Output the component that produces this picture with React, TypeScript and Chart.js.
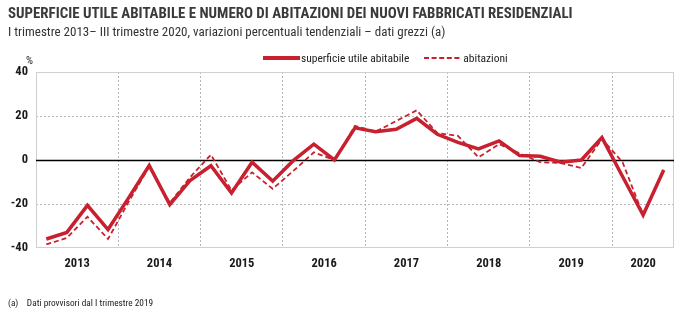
import React, { useEffect, useRef } from "react";
import { Chart, registerables } from "chart.js";

Chart.register(...registerables);

const years = ["2013", "2014", "2015", "2016", "2017", "2018", "2019", "2020"];
const quartersPerYear = [4, 4, 4, 4, 4, 4, 4, 3];

const superficie = [
  -35.9, -32.9, -20.6, -31.6, -17.2, -2.5, -20.3, -9.2, -2.6, -15, -1, -9.6,
  -0.3, 7.2, 0, 14.6, 12.9, 14, 18.9, 11.7, 8, 5, 8.7, 2, 1.7, -1, 0, 10.2,
  -7.5, -25, -4.5,
];
const abitazioni = [
  -38.4, -35.4, -25.8, -35.9, -19, -3, -19.5, -7.7, 2.4, -13.8, -5.6, -13.1,
  -5, 3.5, 0, 15.5, 12.9, 17.7, 22.6, 12.2, 11, 1.2, 7.2, 3, -1, -1.4, -3.6,
  9.5, -1, -25, -4.5,
];
const yTicks = [-40, -20, 0, 20, 40];

const RED = "#c8202f";
const FONT = '"Liberation Sans Narrow", "Arial Narrow", "Roboto Condensed", "Liberation Sans", Arial, sans-serif';

// boundaries and centers of years (in quarter units)
const boundaries: number[] = [0];
const centers: number[] = [];
quartersPerYear.forEach((q) => {
  const start = boundaries[boundaries.length - 1];
  centers.push(start + q / 2);
  boundaries.push(start + q);
});

const framePlugin = {
  id: "frame",
  beforeDatasetsDraw(chart: any) {
    const { ctx, chartArea, scales } = chart;
    ctx.save();
    ctx.strokeStyle = "#cfcfcf";
    ctx.lineWidth = 1;
    ctx.setLineDash([]);
    ctx.strokeRect(chartArea.left + 0.5, chartArea.top + 0.5, chartArea.right - chartArea.left - 1, chartArea.bottom - chartArea.top - 1);
    const y0 = Math.round(scales.y.getPixelForValue(0)) + 0.5;
    ctx.strokeStyle = "#000";
    ctx.lineWidth = 1.5;
    ctx.beginPath();
    ctx.moveTo(chartArea.left, y0);
    ctx.lineTo(chartArea.right, y0);
    ctx.stroke();
    ctx.restore();
  },
};

export default function App() {
  const ref = useRef<HTMLCanvasElement | null>(null);
  useEffect(() => {
    if (!ref.current) return;
    const total = boundaries[boundaries.length - 1];
    const chart = new Chart(ref.current, {
      type: "line",
      data: {
        datasets: [
          {
            label: "superficie utile abitabile",
            data: superficie.map((v, i) => ({ x: i + 0.5, y: v })),
            borderColor: RED,
            borderWidth: 3.5,
            pointRadius: 0,
            tension: 0,
            borderJoinStyle: "miter",
          },
          {
            label: "abitazioni",
            data: abitazioni.map((v, i) => ({ x: i + 0.5, y: v })),
            borderColor: RED,
            borderWidth: 1.8,
            borderDash: [5, 3],
            pointRadius: 0,
            tension: 0,
          },
        ],
      },
      options: {
        animation: false,
        responsive: false,
        maintainAspectRatio: false,
        layout: { padding: { top: 72, right: 17, left: 0, bottom: 0 } },
        plugins: { legend: { display: false }, tooltip: { enabled: false } },
        scales: {
          x: {
            type: "linear",
            min: 0,
            max: total,
            afterBuildTicks: (scale: any) => {
              const vals = [...boundaries, ...centers].sort((a, b) => a - b);
              scale.ticks = vals.map((v) => ({ value: v }));
            },
            afterFit: (scale: any) => {
              scale.height = 76;
            },
            grid: {
              drawTicks: false,
              lineWidth: 1,
              color: (c: any) => {
                const v = c.tick ? c.tick.value : -1;
                if (v === 0 || v === total) return "transparent";
                return boundaries.includes(v) ? "#b5b5b5" : "transparent";
              },
            },
            border: { display: false, dash: [2, 2] },
            ticks: {
              autoSkip: false,
              maxRotation: 0,
              padding: 8,
              color: "#1a1a1a",
              font: { family: FONT, size: 12.5, weight: "bold" },
              callback: (v: any) => {
                const idx = centers.indexOf(v);
                return idx >= 0 ? years[idx] : "";
              },
            },
          },
          y: {
            min: -40,
            max: 40,
            afterBuildTicks: (scale: any) => {
              scale.ticks = yTicks.map((v) => ({ value: v }));
            },
            afterFit: (scale: any) => {
              scale.width = 36;
            },
            grid: {
              drawTicks: false,
              color: (c: any) => {
                const v = c.tick ? c.tick.value : 0;
                return v === 20 || v === -20 ? "#b5b5b5" : "transparent";
              },
            },
            border: { display: false, dash: [2, 2] },
            ticks: {
              padding: 8,
              color: "#1a1a1a",
              font: { family: FONT, size: 12.5, weight: "bold" },
            },
          },
        },
      },
      plugins: [framePlugin],
    } as any);
    return () => chart.destroy();
  }, []);

  const txt: React.CSSProperties = { position: "absolute", fontFamily: FONT, whiteSpace: "nowrap", color: "#222" };

  return (
    <div style={{ position: "fixed", left: 0, top: 0, width: 691, height: 324, background: "#fff", overflow: "hidden" }}>
      <canvas ref={ref} width={691} height={324} style={{ position: "absolute", left: 0, top: 0, width: 691, height: 324 }} />
      <div style={{ ...txt, left: 8, top: 4, fontSize: 14.9, fontWeight: "bold", color: "#3a3a3a" }}>
        SUPERFICIE UTILE ABITABILE E NUMERO DI ABITAZIONI DEI NUOVI FABBRICATI RESIDENZIALI
      </div>
      <div style={{ ...txt, left: 8, top: 24, fontSize: 13, color: "#333" }}>
        I trimestre 2013– III trimestre 2020, variazioni percentuali tendenziali – dati grezzi (a)
      </div>
      <div style={{ ...txt, left: 26, top: 54, fontSize: 11 }}>%</div>
      <div style={{ ...txt, left: 263, top: 51, fontSize: 11.5, display: "flex", alignItems: "center" }}>
        <span style={{ display: "inline-block", width: 37, height: 0, borderTop: `4px solid ${RED}`, marginRight: 1 }} />
        <span>superficie utile abitabile</span>
        <svg width={36} height={4} style={{ marginLeft: 15, marginRight: 3 }}>
          <line x1={0} y1={2} x2={36} y2={2} stroke={RED} strokeWidth={2} strokeDasharray="5 2.6" />
        </svg>
        <span>abitazioni</span>
      </div>
      <div style={{ ...txt, left: 8, top: 297, fontSize: 9.3, color: "#222" }}>
        (a)&nbsp;&nbsp;&nbsp; Dati provvisori dal I trimestre 2019
      </div>
    </div>
  );
}
